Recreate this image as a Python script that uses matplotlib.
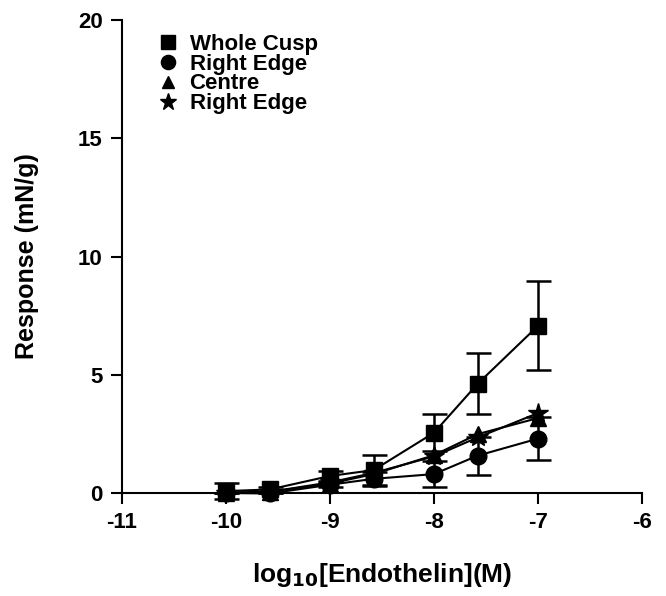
# Endothelin concentration-response curves
import matplotlib.pyplot as plt
from matplotlib.lines import Line2D

plt.rcParams['font.family'] = ['Liberation Sans', 'DejaVu Sans']
plt.rcParams['font.weight'] = 'bold'
plt.rcParams['axes.unicode_minus'] = False
plt.rcParams['mathtext.default'] = 'bf'

# data
log_conc = [-10, -9.58, -9, -8.58, -8, -7.58, -7]

whole_cusp = [0.08, 0.15, 0.72, 0.97, 2.55, 4.62, 7.07]
whole_cusp_err = [0.35, 0.10, 0.20, 0.65, 0.78, 1.28, 1.88]

right_edge = [0.00, -0.02, 0.35, 0.60, 0.80, 1.58, 2.30]
right_edge_err = [0.00, 0.00, 0.10, 0.30, 0.55, 0.80, 0.90]

centre = [0.02, 0.05, 0.40, 0.80, 1.60, 2.49, 3.17]
right_edge_2 = [0.00, 0.05, 0.45, 0.85, 1.55, 2.35, 3.38]

labels = ["Whole Cusp", "Right Edge", "Centre", "Right Edge"]
markers = ['s', 'o', '^', '*']
sizes = [12, 12, 11, 15]

fig = plt.figure(figsize=(6.66, 5.96), dpi=100)
ax = fig.add_axes([0.1832, 0.1728, 0.7808, 0.7936])

series = [(whole_cusp, whole_cusp_err), (right_edge, right_edge_err),
          (centre, None), (right_edge_2, None)]

for (vals, err), m, ms in zip(series, markers, sizes):
    ax.plot(log_conc, vals, color='black', lw=1.5, marker=m, ms=ms,
            clip_on=False, zorder=3)
    if err is not None:
        ax.errorbar(log_conc, vals, yerr=err, fmt='none', ecolor='black',
                    elinewidth=1.8, capsize=9, capthick=1.8, clip_on=False,
                    zorder=2)

ax.set_xlim(-11, -6)
ax.set_ylim(0, 20)
ax.set_xticks([-11, -10, -9, -8, -7, -6])
ax.set_yticks([0, 5, 10, 15, 20])
ax.spines['top'].set_visible(False)
ax.spines['right'].set_visible(False)
ax.spines['left'].set_linewidth(1.5)
ax.spines['bottom'].set_linewidth(1.5)
ax.tick_params(direction='out', length=8, width=1.5, labelsize=16, pad=6)
for lab in ax.get_xticklabels() + ax.get_yticklabels():
    lab.set_fontweight('bold')

ax.set_xlabel("log$_{10}$[Endothelin](M)", fontsize=19,
              fontweight='bold', labelpad=20)
ax.set_ylabel("Response (mN/g)", fontsize=18, fontweight='bold', labelpad=28)

handles = [Line2D([], [], color='black', lw=0, marker=m, ms=ms * 0.85)
           for m, ms in zip(markers, sizes)]
ax.legend(handles, labels, loc='upper left', bbox_to_anchor=(0.055, 0.99),
          frameon=False, handlelength=0.8, handletextpad=0.55,
          labelspacing=-0.05, borderaxespad=0,
          prop={'weight': 'bold', 'size': 16})

fig.savefig("out.png", dpi=100)
